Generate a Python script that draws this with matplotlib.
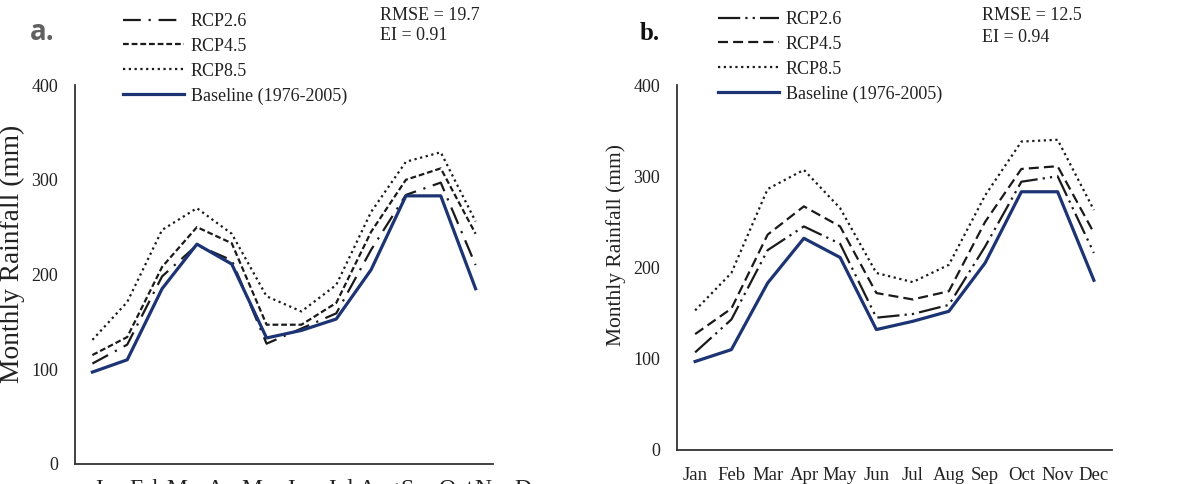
import matplotlib
matplotlib.use("Agg")
import matplotlib.pyplot as plt
import numpy as np

months = ["Jan", "Feb", "Mar", "Apr", "May", "Jun", "Jul", "Aug", "Sep", "Oct", "Nov", "Dec"]

# Panel a
a_baseline = [97, 110, 185, 232, 211, 133, 141, 153, 205, 283, 283, 185]
a_rcp26 = [106, 126, 198, 231, 215, 127, 143, 159, 226, 284, 297, 210]
a_rcp45 = [115, 134, 208, 250, 233, 147, 147, 170, 245, 300, 312, 243]
a_rcp85 = [131, 171, 247, 270, 243, 177, 161, 189, 266, 319, 329, 256]

# Panel b
b_baseline = [97, 110, 183, 232, 211, 132, 141, 152, 205, 283, 283, 186]
b_rcp26 = [107, 143, 219, 245, 226, 145, 149, 159, 223, 294, 300, 216]
b_rcp45 = [127, 155, 236, 267, 245, 172, 165, 174, 250, 308, 311, 238]
b_rcp85 = [153, 194, 286, 307, 265, 194, 184, 203, 279, 338, 340, 263]

labels = ["RCP2.6", "RCP4.5", "RCP8.5", "Baseline (1976-2005)"]
a_stats = ["RMSE = 19.7", "EI = 0.91"]
b_stats = ["RMSE = 12.5", "EI = 0.94"]

W, H = 1200, 484
fig = plt.figure(figsize=(W / 100, H / 100), dpi=100)
serif = "Liberation Serif"
navy = "#1c3473"
ink = "#1a1a1a"
txt = "#222222"


def px_axes(l, r, top, bot):
    return fig.add_axes([l / W, 1 - bot / H, (r - l) / W, (bot - top) / H])


def style(ax, show_x=True, xfs=13, xpad=7):
    ax.set_ylim(0, 400)
    ax.set_xlim(-0.5, 11.5)
    ax.set_yticks([0, 100, 200, 300, 400])
    ax.set_xticks(range(12))
    if show_x:
        ax.set_xticklabels(months, fontfamily=serif, fontsize=xfs, color=txt)
    else:
        ax.set_xticklabels([])
    for t in ax.get_yticklabels():
        t.set_fontfamily(serif)
        t.set_fontsize(13)
        t.set_color(txt)
    ax.tick_params(axis="both", length=0)
    ax.tick_params(axis="y", pad=12)
    ax.tick_params(axis="x", pad=xpad)
    for s in ["top", "right"]:
        ax.spines[s].set_visible(False)
    for s in ["left", "bottom"]:
        ax.spines[s].set_color("#333333")
        ax.spines[s].set_linewidth(1.3)
    ax.patch.set_alpha(0)


def draw(ax, base, r26, r45, r85, dash26, dash45):
    x = np.arange(12)
    l26, = ax.plot(x, r26, color=ink, lw=1.6, dashes=dash26)
    l45, = ax.plot(x, r45, color=ink, lw=1.6, dashes=dash45)
    l85, = ax.plot(x, r85, color=ink, lw=1.6, dashes=(1, 1.6))
    lb, = ax.plot(x, base, color=navy, lw=2.3)
    return [l26, l45, l85, lb]


def legend(ax, handles, x, y):
    ax.legend(handles, labels, loc="upper left", bbox_to_anchor=(x / W, 1 - y / H),
              bbox_transform=fig.transFigure, frameon=False, borderpad=0, borderaxespad=0,
              handlelength=3.4, handletextpad=0.35, labelspacing=0.43,
              prop={"family": serif, "size": 13}, labelcolor=txt)


# Panel a
axa = px_axes(75, 493, 85, 464)
ha = draw(axa, a_baseline, a_rcp26, a_rcp45, a_rcp85, (8, 3.5, 1, 3.5), (2.6, 1.3))
style(axa, show_x=False)
# month labels of panel a sit on a slightly wider band (as in the reference)
axa_lab = px_axes(89.7, 89.7 + 12 * 38.6, 85, 464)
axa_lab.set_xlim(-0.5, 11.5)
axa_lab.set_xticks(range(12))
axa_lab.set_xticklabels(months, fontfamily=serif, fontsize=17, color=txt)
axa_lab.set_yticks([])
axa_lab.tick_params(axis="x", length=0, pad=11)
for s in axa_lab.spines.values():
    s.set_visible(False)
axa_lab.patch.set_alpha(0)

axa.set_ylabel("Monthly Rainfall (mm)", fontfamily=serif, fontsize=19.8, color=txt)
axa.yaxis.set_label_coords(25 / W, 1 - 254 / H, transform=fig.transFigure)
legend(axa, ha, 123, 13)
fig.text(380 / W, 1 - 15 / H, a_stats[0], fontfamily=serif, fontsize=13, va="center", color=txt)
fig.text(380 / W, 1 - 35 / H, a_stats[1], fontfamily=serif, fontsize=13, va="center", color=txt)
fig.text(30 / W, 1 - 40 / H, "a.", fontfamily="Open Sans", fontweight="bold", fontsize=20,
         va="baseline", color="#606060")

# Panel b
axb = px_axes(677, 1112, 85, 450)
hb = draw(axb, b_baseline, b_rcp26, b_rcp45, b_rcp85, (10, 2.3, 1, 2.3, 1, 2.3), (4.5, 2.3))
style(axb, xfs=13.5, xpad=12.5)
axb.set_ylabel("Monthly Rainfall (mm)", fontfamily=serif, fontsize=15.5, color=txt)
axb.yaxis.set_label_coords(626 / W, 1 - 245 / H, transform=fig.transFigure)
legend(axb, hb, 718, 11)
fig.text(982 / W, 1 - 15 / H, b_stats[0], fontfamily=serif, fontsize=13, va="center", color=txt)
fig.text(982 / W, 1 - 37 / H, b_stats[1], fontfamily=serif, fontsize=13, va="center", color=txt)
fig.text(640 / W, 1 - 40 / H, "b.", fontfamily=serif, fontweight="bold", fontsize=18,
         va="baseline", color="#111111")

fig.savefig("out.png", dpi=100)
